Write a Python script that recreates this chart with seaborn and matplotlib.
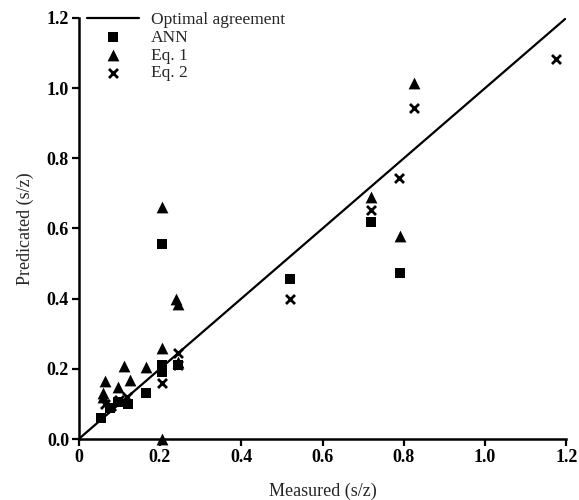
import numpy as np
import pandas as pd
import matplotlib
matplotlib.use("Agg")
import matplotlib.pyplot as plt
import seaborn as sns

# Data
ann_x = [0.056, 0.077, 0.097, 0.122, 0.165, 0.204, 0.204, 0.204, 0.245, 0.519, 0.719, 0.790]
ann_y = [0.059, 0.087, 0.106, 0.100, 0.130, 0.557, 0.210, 0.190, 0.210, 0.456, 0.618, 0.472]

eq1_x = [0.060, 0.060, 0.064, 0.097, 0.112, 0.126, 0.165, 0.204, 0.204, 0.204, 0.240, 0.245, 0.245, 0.719, 0.790, 0.825]
eq1_y = [0.120, 0.130, 0.165, 0.148, 0.208, 0.168, 0.205, 0.660, 0.258, 0.000, 0.400, 0.385, 0.220, 0.689, 0.578, 1.015]

eq2_x = [0.065, 0.080, 0.100, 0.120, 0.204, 0.245, 0.245, 0.519, 0.719, 0.788, 0.825, 1.174]
eq2_y = [0.100, 0.095, 0.110, 0.120, 0.160, 0.244, 0.210, 0.399, 0.652, 0.743, 0.944, 1.083]

line_x = [0.0, 1.2]
line_y = [0.0, 1.2]

x_ticks = [0.0, 0.2, 0.4, 0.6, 0.8, 1.0, 1.2]
x_tick_labels = ["0", "0.2", "0.4", "0.6", "0.8", "1.0", "1.2"]
y_ticks = [0.0, 0.2, 0.4, 0.6, 0.8, 1.0, 1.2]
y_tick_labels = ["0.0", "0.2", "0.4", "0.6", "0.8", "1.0", "1.2"]

sns.set_style("ticks")
plt.rcParams['font.family'] = ['Liberation Serif', 'DejaVu Serif']

fig = plt.figure(figsize=(5.79, 5.0), dpi=100)
ax = fig.add_axes([0.136, 0.122, 0.842, 0.842])

sns.lineplot(x=line_x, y=line_y, ax=ax, color="black", linewidth=1.6,
             label="Optimal agreement")
sns.scatterplot(x=ann_x, y=ann_y, ax=ax, marker="s", color="black", s=56,
                edgecolor="black", linewidth=0, label="ANN", clip_on=False)
sns.scatterplot(x=eq1_x, y=eq1_y, ax=ax, marker="^", color="black", s=72,
                edgecolor="black", linewidth=0, label="Eq. 1", clip_on=False)
sns.scatterplot(x=eq2_x, y=eq2_y, ax=ax, marker="x", color="black", s=42,
                linewidth=2, label="Eq. 2", clip_on=False)

ax.set_xlim(0, 1.2)
ax.set_ylim(0, 1.2)
ax.set_xticks(x_ticks)
ax.set_xticklabels(x_tick_labels, fontweight="bold", fontsize=13)
ax.set_yticks(y_ticks)
ax.set_yticklabels(y_tick_labels, fontweight="bold", fontsize=13)
ax.set_xlabel("Measured (s/z)", fontsize=13, labelpad=12)
ax.set_ylabel("Predicated (s/z)", fontsize=13, labelpad=9)

for side in ["top", "right"]:
    ax.spines[side].set_visible(False)
for side in ["left", "bottom"]:
    ax.spines[side].set_linewidth(1.8)
    ax.spines[side].set_color("black")
ax.tick_params(axis="both", direction="out", length=5, width=1.6, colors="black", pad=2)

leg = ax.legend(loc="upper left", bbox_to_anchor=(-0.005, 1.04), frameon=False,
                fontsize=12.5, handlelength=3.0, handletextpad=0.7,
                labelspacing=0.1, borderaxespad=0.2)

fig.savefig("out.png", dpi=100)
